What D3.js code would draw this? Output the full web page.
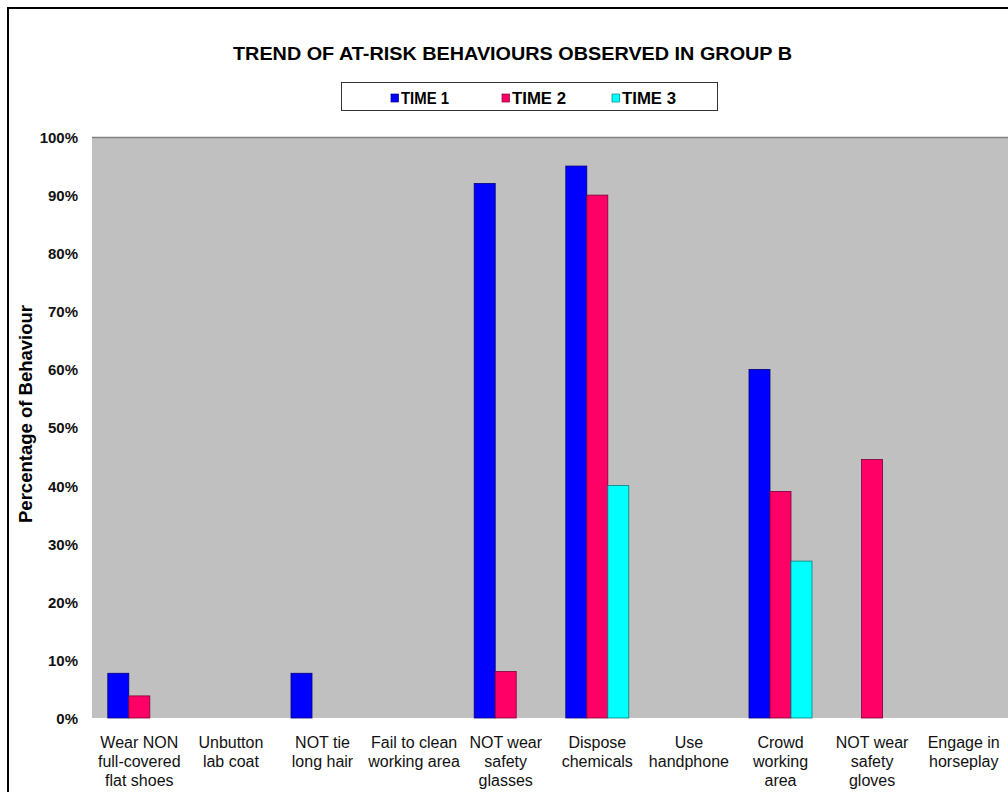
<!DOCTYPE html>
<html>
<head>
<meta charset="utf-8">
<script src="https://cdn.jsdelivr.net/npm/d3@7"></script>
<style>
  html, body { margin: 0; padding: 0; background: #fff; }
  svg { display: block; font-family: "Liberation Sans", Arial, sans-serif; }
</style>
</head>
<body>
<svg id="chart" width="1008" height="792"></svg>
<script>
// Behaviour categories (label lines)
const categories = [
  ["Wear NON", "full-covered", "flat shoes"],
  ["Unbutton", "lab coat"],
  ["NOT tie", "long hair"],
  ["Fail to clean", "working area"],
  ["NOT wear", "safety", "glasses"],
  ["Dispose", "chemicals"],
  ["Use", "handphone"],
  ["Crowd", "working", "area"],
  ["NOT wear", "safety", "gloves"],
  ["Engage in", "horseplay"]
];
const seriesNames = ["TIME 1", "TIME 2", "TIME 3"];
const time1 = [7.7, 0, 7.7, 0, 92, 95, 0, 60, 0, 0];
const time2 = [3.8, 0, 0, 0, 8, 90, 0, 39, 44.5, 0];
const time3 = [0, 0, 0, 0, 0, 40, 0, 27, 0, 0];
const yTicks = [0, 10, 20, 30, 40, 50, 60, 70, 80, 90, 100];
const colors = ["#0000FF", "#FF0066", "#00FFFF"];
const strokes = ["#00007a", "#7a0033", "#00807f"];

const series = [time1, time2, time3];
const svg = d3.select("#chart");

// outer chart frame
svg.append("rect")
  .attr("x", 8).attr("y", 8).attr("width", 1010).attr("height", 800)
  .attr("fill", "#fff").attr("stroke", "#000").attr("stroke-width", 2);

const plot = { left: 92, top: 137, bottom: 718 };
const bandStart = 93.5, band = 91.6;
const plotRight = bandStart + band * categories.length;

const x = d3.scaleBand()
  .domain(d3.range(categories.length))
  .range([bandStart, plotRight])
  .paddingInner(0).paddingOuter(0);

const y = d3.scaleLinear().domain([0, 100]).range([plot.bottom, plot.top]);

// plot area
svg.append("rect")
  .attr("x", plot.left).attr("y", plot.top)
  .attr("width", plotRight - plot.left).attr("height", plot.bottom - plot.top)
  .attr("fill", "#C0C0C0");
svg.append("line")
  .attr("x1", plot.left).attr("x2", plotRight)
  .attr("y1", plot.top + 0.5).attr("y2", plot.top + 0.5)
  .attr("stroke", "#808080").attr("stroke-width", 1.5);

// title
svg.append("text")
  .attr("x", 512.5).attr("y", 60)
  .attr("text-anchor", "middle")
  .attr("font-family", "'Liberation Sans Narrow', 'Liberation Sans', Arial, sans-serif")
  .attr("font-weight", "bold").attr("font-size", 19)
  .attr("textLength", 559).attr("lengthAdjust", "spacingAndGlyphs")
  .text("TREND OF AT-RISK BEHAVIOURS OBSERVED IN GROUP B");

// legend
const legend = svg.append("g");
legend.append("rect")
  .attr("x", 341.5).attr("y", 82.5).attr("width", 376).attr("height", 28)
  .attr("fill", "#fff").attr("stroke", "#333").attr("stroke-width", 1);
const legX = [391, 502, 612];
const legW = [48, 54, 54];
seriesNames.forEach((name, i) => {
  legend.append("rect")
    .attr("x", legX[i]).attr("y", 94).attr("width", 7.5).attr("height", 8)
    .attr("fill", colors[i]).attr("stroke", strokes[i]).attr("stroke-width", 0.7);
  legend.append("text")
    .attr("x", legX[i] + 10).attr("y", 103.5)
    .attr("font-family", "'Liberation Sans Narrow', 'Liberation Sans', Arial, sans-serif")
    .attr("font-weight", "bold").attr("font-size", 16)
    .attr("textLength", legW[i]).attr("lengthAdjust", "spacingAndGlyphs")
    .text(name);
});

// bars
const barW = 21;
const groups = svg.append("g");
categories.forEach((c, ci) => {
  const cx = x(ci) + x.bandwidth() / 2;
  series.forEach((s, si) => {
    const v = s[ci];
    if (!v) return;
    groups.append("rect")
      .attr("x", cx - barW * 1.5 + si * barW)
      .attr("y", y(v))
      .attr("width", barW)
      .attr("height", y(0) - y(v))
      .attr("fill", colors[si])
      .attr("stroke", strokes[si]).attr("stroke-width", 0.8);
  });
});

// y axis
const yAxis = d3.axisLeft(y).tickValues(yTicks).tickFormat(d => d + "%").tickSize(0).tickPadding(0);
const yg = svg.append("g").attr("transform", `translate(78,0)`).call(yAxis);
yg.select(".domain").remove();
yg.selectAll("text")
  .attr("font-family", "Liberation Sans, Arial, sans-serif")
  .attr("font-size", 15).attr("font-weight", "bold").attr("fill", "#111")
  .attr("dy", "0.36em");

// x labels
const xg = svg.append("g");
categories.forEach((lines, ci) => {
  const cx = x(ci) + x.bandwidth() / 2;
  const t = xg.append("text")
    .attr("x", cx)
    .attr("y", 748)
    .attr("text-anchor", "middle")
    .attr("font-size", 16).attr("fill", "#111");
  lines.forEach((ln, li) => {
    t.append("tspan").attr("x", cx).attr("dy", li === 0 ? 0 : 19).text(ln);
  });
});

// y axis title
svg.append("text")
  .attr("transform", "translate(32,414) rotate(-90)")
  .attr("text-anchor", "middle")
  .attr("font-weight", "bold").attr("font-size", 18.5)
  .text("Percentage of Behaviour");
</script>
</body>
</html>
